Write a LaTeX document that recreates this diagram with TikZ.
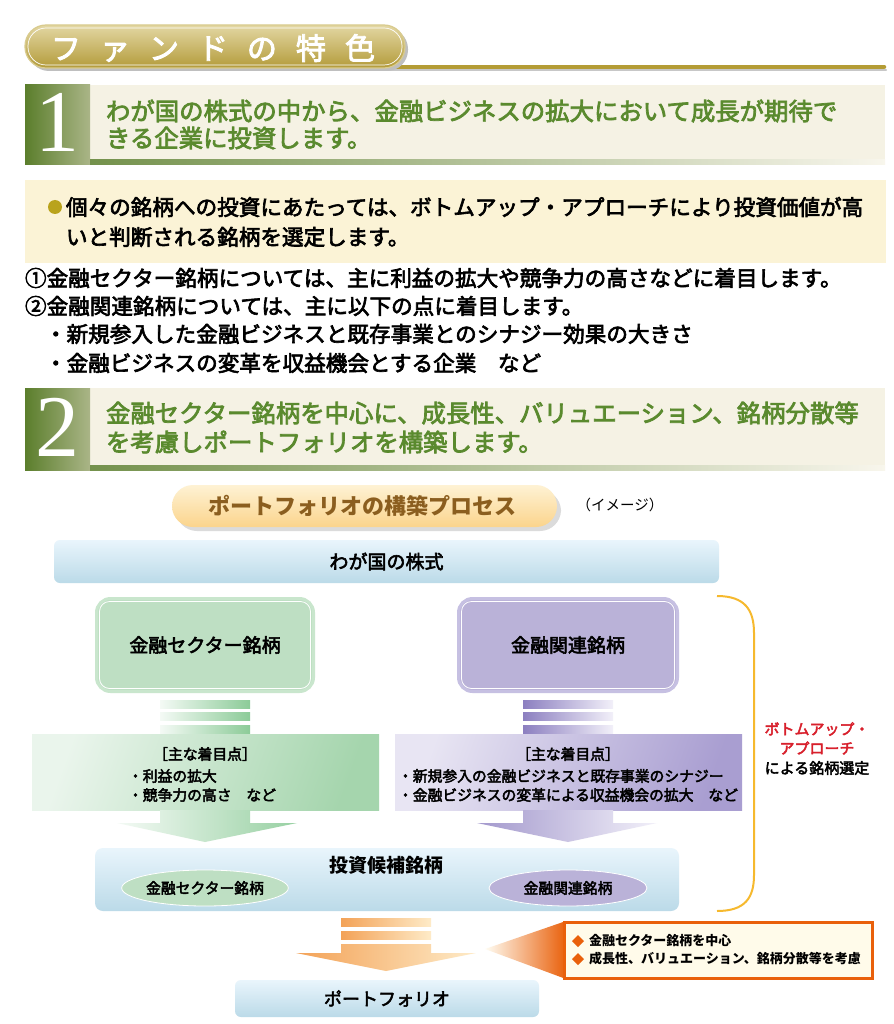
\documentclass[tikz,border=0pt]{standalone}
\usepackage{fontspec}
\setmainfont{Noto Sans CJK JP}
\newfontfamily\medfont{Noto Sans CJK JP}[FakeBold=3]
\newfontfamily\numfont{Liberation Serif}
\usetikzlibrary{shapes.geometric}
\definecolor{cream}{HTML}{F5F2E4}
\definecolor{gdark}{HTML}{5B7E2C}
\definecolor{glight}{HTML}{AAB587}
\definecolor{gtext}{HTML}{5A8A2E}
\definecolor{bulletbox}{HTML}{FBF3D6}
\definecolor{olive}{HTML}{B9A31C}
\definecolor{goldtop}{HTML}{E3D7A3}
\definecolor{goldbot}{HTML}{B39B3A}
\definecolor{goldline}{HTML}{B49C35}
\definecolor{pilltop}{HTML}{FEF2D4}
\definecolor{pillbot}{HTML}{FBD48C}
\definecolor{pilltext}{HTML}{8B5E1F}
\definecolor{bluetop}{HTML}{E9F5FC}
\definecolor{bluebot}{HTML}{BBDAE8}
\definecolor{greenfill}{HTML}{BEDFC3}
\definecolor{greenedge}{HTML}{C9E6CD}
\definecolor{purfill}{HTML}{BAB2D8}
\definecolor{puredge}{HTML}{C6C0E2}
\definecolor{sgL}{HTML}{F4FAF5}
\definecolor{sgR}{HTML}{8CCB98}
\definecolor{bgL}{HTML}{EAF5EC}
\definecolor{bgR}{HTML}{A5D5AD}
\definecolor{spL}{HTML}{8C7FC0}
\definecolor{spR}{HTML}{F2F0F9}
\definecolor{bpL}{HTML}{E8E5F3}
\definecolor{bpR}{HTML}{A99ED1}
\definecolor{soL}{HTML}{F3A257}
\definecolor{soR}{HTML}{FEEBC8}
\definecolor{calor}{HTML}{E9600B}
\definecolor{calfill}{HTML}{FFFBEA}
\definecolor{bracket}{HTML}{F6B92E}
\definecolor{redtxt}{HTML}{D8202C}
\begin{document}
\begin{tikzpicture}[x=1pt,y=-1pt,
  every node/.style={inner sep=0pt,outer sep=0pt},
  fs/.style={font=\medfont\fontsize{#1}{#1}\selectfont},
  feat/.style={fs=24.4,text=gtext,anchor=west},
  body/.style={fs=21.6,anchor=west},
  bluebar/.style={rounded corners=6pt,top color=bluetop,bottom color=bluebot,fs=19},
  small/.style={fs=14.8},
  numstyle/.style={text=white,font=\numfont\fontsize{88}{88}\selectfont},
]
\useasboundingbox (0,0) rectangle (893,1024);
\fill[white] (0,0) rectangle (893,1024);

% ---------- title ----------
\draw[line width=2pt,color=black!22,line cap=round] (380,70.5) -- (886,70.5);
\draw[line width=4.5pt,color=goldline,line cap=round] (380,67) -- (884,67);
\fill[black!25,rounded corners=21pt] (28,28) rectangle (408,71);
\node[rounded corners=21pt,top color=goldtop,bottom color=goldbot,draw=goldtop!80!goldbot,line width=1.2pt,
  minimum width=380pt,minimum height=43pt] (titlepill) at (215,46.5) {};
\draw[white,line width=0.7pt,rounded corners=18pt] ([shift={(3,3)}]titlepill.north west) rectangle ([shift={(-3,-3)}]titlepill.south east);
\node[text=white,fs=30] (title) at (213,48) {フ\hspace{19pt}ァ\hspace{19pt}ン\hspace{19pt}ド\hspace{19pt}の\hspace{19pt}特\hspace{19pt}色};

% ---------- feature 1 ----------
\fill[cream] (25,85) rectangle (885,165);
\shade[left color=gdark,right color=glight] (25,85) rectangle (90,165);
\shade[left color=gdark!85,right color=cream!70!white] (90,160) rectangle (885,165);
\node[numstyle] (n1) at (57,122) {1};
\node[feat] (f1a) at (106,111) {わが国の株式の中から、金融ビジネスの拡大において成長が期待で};
\node[feat] (f1b) at (106,138) {きる企業に投資します。};

% ---------- bullet box ----------
\fill[bulletbox] (25,180) rectangle (886,263);
\node[circle,fill=olive,minimum size=14pt] (dot) at (55,207) {};
\node[body] (b1) at (66,207) {個々の銘柄への投資にあたっては、ボトムアップ・アプローチにより投資価値が高};
\node[body] (b2) at (66,237) {いと判断される銘柄を選定します。};

\node[body] (l1) at (25,278) {①金融セクター銘柄については、主に利益の拡大や競争力の高さなどに着目します。};
\node[body] (l2) at (25,306) {②金融関連銘柄については、主に以下の点に着目します。};
\node[body] (l3) at (45,334) {・新規参入した金融ビジネスと既存事業とのシナジー効果の大きさ};
\node[body] (l4) at (45,363) {・金融ビジネスの変革を収益機会とする企業　など};

% ---------- feature 2 ----------
\fill[cream] (25,388) rectangle (885,470);
\shade[left color=gdark,right color=glight] (25,388) rectangle (90,470);
\shade[left color=gdark!85,right color=cream!70!white] (90,465) rectangle (885,470);
\node[numstyle] (n2) at (57,427) {2};
\node[feat] (f2a) at (106,413) {金融セクター銘柄を中心に、成長性、バリュエーション、銘柄分散等};
\node[feat] (f2b) at (106,442) {を考慮しポートフォリオを構築します。};

% ---------- process pill ----------
\fill[black!14,rounded corners=21pt] (176,490) rectangle (561,531);
\node[rounded corners=21pt,top color=pilltop,bottom color=pillbot,minimum width=385pt,minimum height=42pt] (ppill) at (364.5,506) {};
\node[text=pilltext,font=\bfseries\fontsize{22}{22}\selectfont] (ptitle) at (362,506) {ポートフォリオの構築プロセス};
\node[font=\fontsize{14.5}{14.5}\selectfont] (image) at (620,505) {（イメージ）};

% ---------- stocks bar ----------
\node[bluebar,minimum width=665pt,minimum height=43pt] (stocks) at (386.5,561.5) {わが国の株式};

% ---------- two category boxes ----------
\node[draw=greenedge,line width=3pt,fill=greenfill,rounded corners=14pt,minimum width=217pt,minimum height=93pt,fs=19] (gsec) at (205,645) {金融セクター銘柄};
\draw[white,line width=0.8pt,rounded corners=10pt] ([shift={(3,3)}]gsec.north west) rectangle ([shift={(-3,-3)}]gsec.south east);
\node[draw=puredge,line width=3pt,fill=purfill,rounded corners=14pt,minimum width=219pt,minimum height=93pt,fs=19] (psec) at (568,645) {金融関連銘柄};
\draw[white,line width=0.8pt,rounded corners=10pt] ([shift={(3,3)}]psec.north west) rectangle ([shift={(-3,-3)}]psec.south east);

% ---------- green arrow ----------
\shade[left color=sgL,right color=sgR] (160,700) rectangle (250,708);
\shade[left color=sgL,right color=sgR] (160,712) rectangle (250,720);
\shade[left color=sgL,right color=sgR] (160,725) rectangle (250,734);
\shade[left color=bgL,right color=bgR,shading angle=70] (32,734) rectangle (379,810);
\shade[left color=sgL,right color=sgR!90] (160,810) -- (250,810) -- (250,823) -- (297,823) -- (205,842) -- (117,823) -- (160,823) -- cycle;
\node[small] (gk) at (205,754) {［主な着目点］};
\node[small,anchor=west] (g1) at (128,776) {・利益の拡大};
\node[small,anchor=west] (g2) at (128,795) {・競争力の高さ　など};

% ---------- purple arrow ----------
\shade[left color=spL,right color=spR] (523,700) rectangle (613,708);
\shade[left color=spL,right color=spR] (523,712) rectangle (613,720);
\shade[left color=spL,right color=spR] (523,725) rectangle (613,734);
\shade[left color=bpL,right color=bpR,shading angle=70] (395,734) rectangle (742,810);
\shade[left color=spL!80,right color=spR] (523,810) -- (613,810) -- (613,823) -- (657,823) -- (568,842) -- (477,823) -- (523,823) -- cycle;
\node[small] (pk) at (568,754) {［主な着目点］};
\node[small,anchor=west] (p1) at (398,776) {・新規参入の金融ビジネスと既存事業のシナジー};
\node[small,anchor=west] (p2) at (398,795) {・金融ビジネスの変革による収益機会の拡大　など};

% ---------- candidates ----------
\node[rounded corners=8pt,top color=bluetop,bottom color=bluebot,minimum width=584pt,minimum height=63pt] (cand) at (387,879.5) {};
\node[font=\bfseries\fontsize{19}{19}\selectfont] (candt) at (386,865) {投資候補銘柄};
\node[ellipse,fill=greenfill,draw=white,line width=0.8pt,minimum width=158pt,minimum height=36pt,small] (ge) at (205,888) {金融セクター銘柄};
\node[ellipse,fill=purfill,draw=white,line width=0.8pt,minimum width=158pt,minimum height=36pt,small] (pe) at (568,888) {金融関連銘柄};

% ---------- bracket ----------
\coordinate (brA) at (717,596);
\coordinate (brB) at (717,911);
\draw[bracket,line width=2pt] (brA) .. controls (745,596) and (754,610) .. (754,633) -- (754,875) .. controls (754,898) and (745,911) .. (brB);
\node[fs=15,text=redtxt] (r1) at (817,729) {ボトムアップ・};
\node[fs=15,text=redtxt] (r2) at (817,748) {アプローチ};
\node[fs=15] (r3) at (817,768) {による銘柄選定};

% ---------- orange arrow ----------
\shade[left color=soL,right color=soR] (341,918) rectangle (431,926);
\shade[left color=soL,right color=soR] (341,931) rectangle (431,939);
\shade[left color=soL,right color=soR] (341,944) -- (431,944) -- (431,953) -- (476,953) -- (386,971) -- (296,953) -- (341,953) -- cycle;

% ---------- portfolio ----------
\node[bluebar,fs=18,minimum width=304pt,minimum height=37pt] (port) at (387,998.5) {ポートフォリオ};

% ---------- callout ----------
\shade[left color=calfill!60!white,right color=calor] (485,949) -- (566,921) -- (566,979) -- cycle;
\node[draw=calor,line width=3pt,fill=calfill,minimum width=308pt,minimum height=56pt] (callout) at (718,950) {};
\node[diamond,fill=calor,minimum size=12pt] (d1) at (578,941) {};
\node[diamond,fill=calor,minimum size=12pt] (d2) at (578,959) {};
\node[anchor=west,font=\bfseries\fontsize{13}{13}\selectfont] (c1) at (589,941) {金融セクター銘柄を中心};
\node[anchor=west,font=\bfseries\fontsize{13}{13}\selectfont] (c2) at (589,959) {成長性、バリュエーション、銘柄分散等を考慮};
\end{tikzpicture}
\end{document}
